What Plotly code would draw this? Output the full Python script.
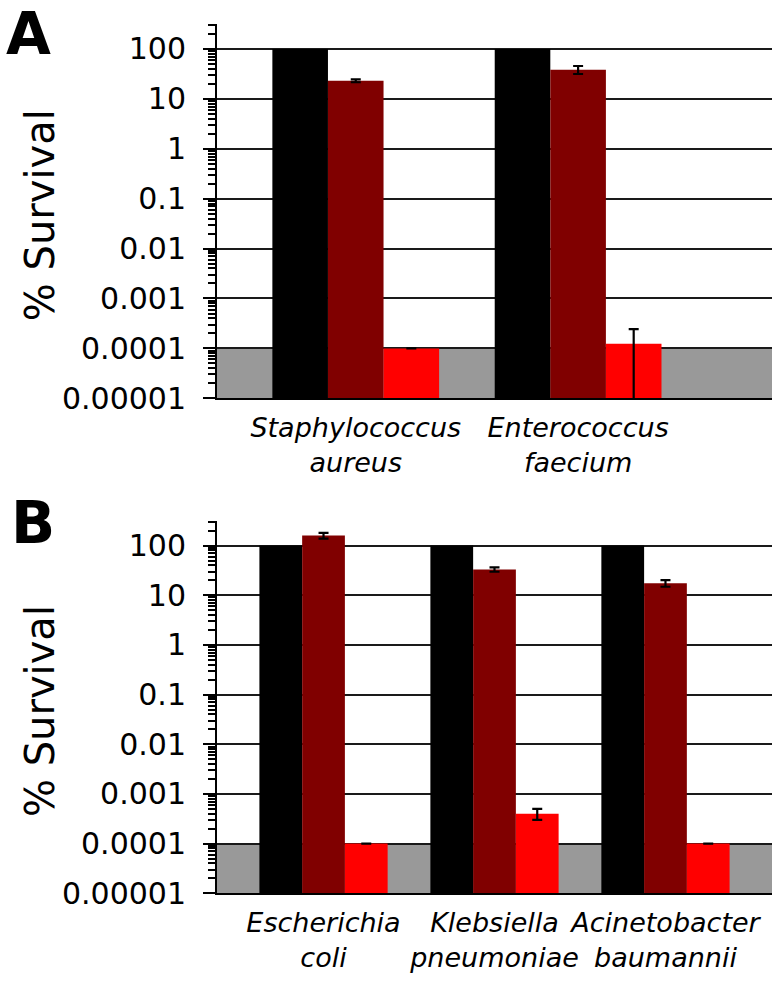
import plotly.graph_objects as go

# ---------------- data ----------------
# Panel A
genus_a = ["Staphylococcus", "Enterococcus"]
species_a = ["aureus", "faecium"]
control_a = [100, 100]
mid_a = [23, 38.5]
mid_err_a = [1.5, 7]
high_a = [1e-4, 1.24e-4]
high_err_plus_a = [None, 1.2e-4]
high_err_minus_a = [None, 1.235e-4]

# Panel B
genus_b = ["Escherichia", "Klebsiella", "Acinetobacter"]
species_b = ["coli", "pneumoniae", "baumannii"]
control_b = [100, 100, 100]
mid_b = [159, 33, 17.5]
mid_err_b = [21, 3.3, 2.7]
high_b = [1e-4, 4e-4, 1e-4]
high_err_b = [None, 1e-4, None]

detection_limit = 1e-4
axis_min = 1e-5
ytick_vals = [1e-5, 1e-4, 1e-3, 1e-2, 1e-1, 1, 10, 100]
ytick_text = ["0.00001", "0.0001", "0.001", "0.01", "0.1", "1", "10", "100"]
y_title = "% Survival"
panel_labels = ["A", "B"]

colors = ["#000000", "#800000", "#FF0000"]
band_color = "#999999"
FONT = "DejaVu Sans"

def cats(genus, species):
    return [f"<i>{g}</i><br><i>{s}</i>" for g, s in zip(genus, species)]

cat_a = cats(genus_a, species_a)
cat_b = cats(genus_b, species_b)

fig = go.Figure()

def add_panel(cat, ctrl, mid, mid_err, high, hi_plus, hi_minus, xa, ya):
    fig.add_trace(go.Bar(x=cat, y=ctrl, marker=dict(color=colors[0], line=dict(width=0)),
                         xaxis=xa, yaxis=ya, showlegend=False))
    fig.add_trace(go.Bar(x=cat, y=mid, marker=dict(color=colors[1], line=dict(width=0)),
                         error_y=dict(type="data", array=mid_err, color="black", thickness=2.2, width=5),
                         xaxis=xa, yaxis=ya, showlegend=False))
    fig.add_trace(go.Bar(x=cat, y=high, marker=dict(color=colors[2], line=dict(width=0)),
                         error_y=dict(type="data", array=hi_plus, arrayminus=hi_minus,
                                      symmetric=False, color="black", thickness=2.2, width=5),
                         xaxis=xa, yaxis=ya, showlegend=False))

add_panel(cat_a, control_a, mid_a, mid_err_a, high_a, high_err_plus_a, high_err_minus_a, "x", "y")
add_panel(cat_b, control_b, mid_b, mid_err_b, high_b, high_err_b, high_err_b, "x2", "y2")

# target picture size; the captured page is ~999 px tall and squeezed to 981
W, H = 781, 981
PAGE_H = 999
x_dom = [217 / W, 772 / W]
yA = [1 - 398.3 / H, 1 - 24 / H]
yB = [1 - 893.3 / H, 1 - 520.7 / H]

yaxis_common = dict(
    type="log", range=[-5, 2.5],
    tickvals=ytick_vals, ticktext=ytick_text,
    showline=True, linecolor="black", linewidth=2,
    ticks="outside", ticklen=12, tickwidth=2, tickcolor="black",
    minor=dict(ticks="outside", ticklen=7, tickwidth=1.5, tickcolor="black", dtick="D1", showgrid=False),
    showgrid=True, gridcolor="#1a1a1a", gridwidth=1.6,
    tickfont=dict(family=FONT, size=30, color="black"),
    ticklabelstandoff=11,
    zeroline=False, fixedrange=True,
)
xaxis_common = dict(
    type="category", showline=True, linecolor="black", linewidth=2,
    ticks="", showgrid=False, zeroline=False, tickangle=0,
    ticklabelstandoff=4,
    tickfont=dict(family=FONT, size=27, color="black"),
)

fig.update_layout(
    width=W, height=PAGE_H,
    margin=dict(l=0, r=0, t=0, b=0),
    paper_bgcolor="white", plot_bgcolor="white",
    barmode="group", bargap=0.25, bargroupgap=0,
    xaxis=dict(domain=x_dom, range=[-0.624, 1.872], anchor="y", **xaxis_common),
    yaxis=dict(domain=yA, anchor="x", **yaxis_common),
    xaxis2=dict(domain=x_dom, range=[-0.623, 2.623], anchor="y2", **xaxis_common),
    yaxis2=dict(domain=yB, anchor="x2", **yaxis_common),
    shapes=[
        dict(type="rect", xref="x domain", yref="y", x0=0, x1=1, y0=axis_min, y1=detection_limit,
             fillcolor=band_color, line=dict(width=0), layer="below"),
        dict(type="rect", xref="x2 domain", yref="y2", x0=0, x1=1, y0=axis_min, y1=detection_limit,
             fillcolor=band_color, line=dict(width=0), layer="below"),
    ],
    annotations=[
        dict(text=f"<b>{panel_labels[0]}</b>", x=4 / W, y=1 - 34 / H, xref="paper", yref="paper",
             xanchor="left", yanchor="middle", showarrow=False,
             font=dict(family="DejaVu Sans", size=58, color="black")),
        dict(text=f"<b>{panel_labels[1]}</b>", x=9 / W, y=1 - 523 / H, xref="paper", yref="paper",
             xanchor="left", yanchor="middle", showarrow=False,
             font=dict(family="DejaVu Sans", size=58, color="black")),
        dict(text=y_title, textangle=-90, x=40 / W, y=0.5, xref="paper", yref="y domain",
             xanchor="center", yanchor="middle", showarrow=False, yshift=-4,
             font=dict(family=FONT, size=40, color="black")),
        dict(text=y_title, textangle=-90, x=40 / W, y=0.5, xref="paper", yref="y2 domain",
             xanchor="center", yanchor="middle", showarrow=False, yshift=-4,
             font=dict(family=FONT, size=40, color="black")),
    ],
)

post = (
    "document.documentElement.style.margin='0';"
    "document.body.style.margin='0';"
)

fig.write_html("out.html", config={"displayModeBar": False}, post_script=post)
